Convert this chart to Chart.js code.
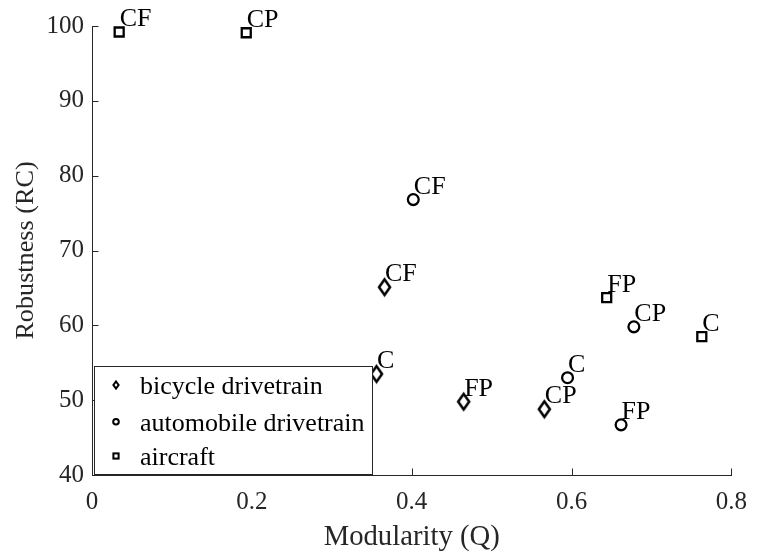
<!DOCTYPE html>
<html>
<head>
<meta charset="utf-8">
<script src="https://cdn.jsdelivr.net/npm/chart.js@4.4.0/dist/chart.umd.min.js"></script>
<style>
  html, body { margin: 0; padding: 0; background: #fff; }
  #wrap { width: 759px; height: 552px; }
</style>
</head>
<body>
<div id="wrap"><canvas id="chart" width="759" height="552"></canvas></div>
<script>
// architecture configurations (point labels)
const configs = ['C', 'CF', 'CP', 'FP'];

// modularity Q and robustness RC per product, same order as configs
const bicycleQ = [0.356, 0.366, 0.566, 0.465];
const bicycleRC = [53.5, 65.1, 48.8, 49.8];
const automobileQ = [0.595, 0.402, 0.678, 0.662];
const automobileRC = [53.0, 76.8, 59.8, 46.7];
const aircraftQ = [0.763, 0.034, 0.193, 0.644];
const aircraftRC = [58.5, 99.2, 99.1, 63.7];

const seriesNames = ['bicycle drivetrain', 'automobile drivetrain', 'aircraft'];
const xTicks = [0, 0.2, 0.4, 0.6, 0.8];
const yTicks = [40, 50, 60, 70, 80, 90, 100];

const INK = '#262626';
const SERIF = '"Liberation Serif", "Times New Roman", serif';

// MATLAB-ish tall diamond marker
function diamondCanvas(w, h, lw) {
  const c = document.createElement('canvas');
  c.width = w + 8;
  c.height = h + 8;
  const g = c.getContext('2d');
  const cx = c.width / 2, cy = c.height / 2;
  g.strokeStyle = '#000';
  g.lineWidth = lw;
  g.beginPath();
  g.moveTo(cx, cy - h / 2);
  g.lineTo(cx + w / 2, cy);
  g.lineTo(cx, cy + h / 2);
  g.lineTo(cx - w / 2, cy);
  g.closePath();
  g.stroke();
  return c;
}

function toPoints(xs, ys) {
  return xs.map((x, i) => ({ x: x, y: ys[i] }));
}

const diamond = diamondCanvas(11, 15.5, 2.5);

const datasets = [
  {
    label: seriesNames[0],
    data: toPoints(bicycleQ, bicycleRC),
    pointStyle: diamond,
    pointRadius: 7,
    borderColor: '#000',
    backgroundColor: 'rgba(0,0,0,0)',
    borderWidth: 2.3
  },
  {
    label: seriesNames[1],
    data: toPoints(automobileQ, automobileRC),
    pointStyle: 'circle',
    pointRadius: 5.4,
    borderColor: '#000',
    backgroundColor: 'rgba(0,0,0,0)',
    borderWidth: 2.3
  },
  {
    label: seriesNames[2],
    data: toPoints(aircraftQ, aircraftRC),
    pointStyle: 'rect',
    pointRadius: 6.36,
    borderColor: '#000',
    backgroundColor: 'rgba(0,0,0,0)',
    borderWidth: 2.3
  }
];

// inward tick marks (box off, ticks inside like MATLAB)
const innerTicks = {
  id: 'innerTicks',
  afterDraw(chart) {
    const ctx = chart.ctx;
    const { x, y } = chart.scales;
    const area = chart.chartArea;
    ctx.save();
    ctx.strokeStyle = INK;
    ctx.lineWidth = 1;
    ctx.beginPath();
    xTicks.forEach(v => {
      const px = Math.round(x.getPixelForValue(v)) + 0.5;
      ctx.moveTo(px, area.bottom);
      ctx.lineTo(px, area.bottom - 6.5);
    });
    yTicks.forEach(v => {
      const py = Math.round(y.getPixelForValue(v)) + 0.5;
      ctx.moveTo(area.left, py);
      ctx.lineTo(area.left + 6.5, py);
    });
    ctx.stroke();
    ctx.restore();
  }
};

// configuration names next to each marker
const pointLabels = {
  id: 'pointLabels',
  afterDatasetsDraw(chart) {
    const ctx = chart.ctx;
    ctx.save();
    ctx.fillStyle = '#000';
    ctx.font = '26px ' + SERIF;
    ctx.textAlign = 'left';
    ctx.textBaseline = 'alphabetic';
    chart.data.datasets.forEach((ds, di) => {
      chart.getDatasetMeta(di).data.forEach((pt, i) => {
        ctx.fillText(configs[i], pt.x + 0.5, pt.y - 6);
      });
    });
    ctx.restore();
  }
};

// legend box in the lower left corner of the axes
const cornerLegend = {
  id: 'cornerLegend',
  afterDraw(chart) {
    const ctx = chart.ctx;
    const area = chart.chartArea;
    const bx = area.left + 2, w = 279, h = 109;
    const by = area.bottom - h;
    ctx.save();
    ctx.fillStyle = '#fff';
    ctx.fillRect(bx, by, w, h);
    ctx.strokeStyle = INK;
    ctx.lineWidth = 1;
    ctx.strokeRect(bx + 0.5, by + 0.5, w - 1, h - 1);

    const rows = [by + 19, by + 55.7, by + 90];
    const mx = bx + 22;
    ctx.strokeStyle = '#000';
    ctx.lineWidth = 2;
    // diamond
    ctx.beginPath();
    ctx.moveTo(mx, rows[0] - 3.5);
    ctx.lineTo(mx + 2.6, rows[0]);
    ctx.lineTo(mx, rows[0] + 3.5);
    ctx.lineTo(mx - 2.6, rows[0]);
    ctx.closePath();
    ctx.stroke();
    // circle
    ctx.beginPath();
    ctx.arc(mx, rows[1], 2.8, 0, Math.PI * 2);
    ctx.stroke();
    // square
    ctx.strokeRect(mx - 2.6, rows[2] - 2.6, 5.2, 5.2);

    ctx.fillStyle = '#000';
    ctx.font = '26px ' + SERIF;
    ctx.textAlign = 'left';
    ctx.textBaseline = 'alphabetic';
    seriesNames.forEach((name, i) => {
      ctx.fillText(name, bx + 46, rows[i] + 9);
    });
    ctx.restore();
  }
};

new Chart(document.getElementById('chart'), {
  type: 'scatter',
  data: { datasets: datasets },
  plugins: [innerTicks, pointLabels, cornerLegend],
  options: {
    responsive: false,
    animation: false,
    devicePixelRatio: 1,
    layout: { padding: { top: 26, right: 20, bottom: 0, left: 0 } },
    plugins: {
      legend: { display: false },
      tooltip: { enabled: false }
    },
    scales: {
      x: {
        type: 'linear',
        min: 0,
        max: 0.8,
        afterFit(scale) { scale.height = 77; },
        afterBuildTicks(scale) { scale.ticks = xTicks.map(v => ({ value: v })); },
        grid: { display: false, drawTicks: false },
        border: { display: true, color: INK, width: 1 },
        ticks: {
          color: INK,
          padding: 12,
          maxRotation: 0,
          font: { family: SERIF, size: 25 },
          callback: v => (v === 0 ? '0' : v.toFixed(1))
        },
        title: {
          display: true,
          text: 'Modularity (Q)',
          color: INK,
          font: { family: SERIF, size: 28.7, lineHeight: 1 },
          padding: { top: 5, bottom: 0 }
        }
      },
      y: {
        type: 'linear',
        min: 40,
        max: 100,
        afterFit(scale) { scale.width = 92; },
        afterBuildTicks(scale) { scale.ticks = yTicks.map(v => ({ value: v })); },
        grid: { display: false, drawTicks: false },
        border: { display: true, color: INK, width: 1 },
        ticks: {
          color: INK,
          padding: 8,
          font: { family: SERIF, size: 25 }
        },
        title: {
          display: true,
          text: 'Robustness (RC)',
          color: INK,
          font: { family: SERIF, size: 26.2, lineHeight: 1 },
          padding: { top: 13, bottom: 0 }
        }
      }
    }
  }
});
</script>
</body>
</html>
